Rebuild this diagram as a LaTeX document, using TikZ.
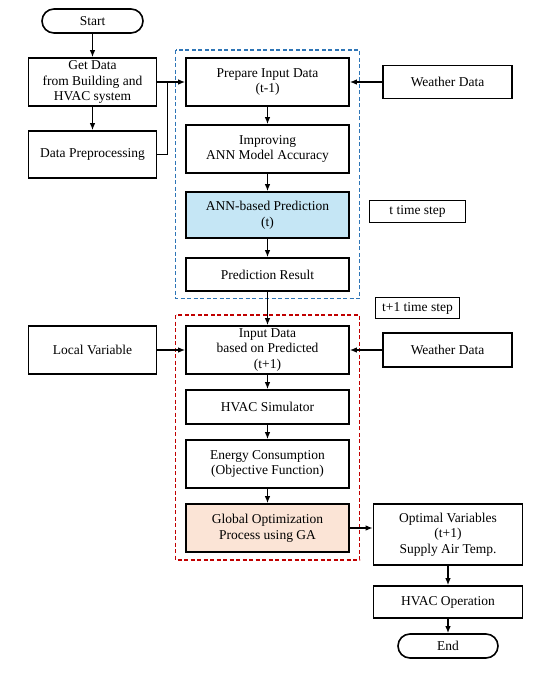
\documentclass[tikz,border=0pt]{standalone}
\usepackage{fontspec}
\setmainfont{Liberation Serif}
\usepackage{xcolor}
\usepackage{tikz}
\usetikzlibrary{positioning,calc,arrows.meta}
\definecolor{annblue}{RGB}{197,230,245}
\definecolor{gapeach}{RGB}{251,228,214}
\definecolor{zoneblue}{RGB}{46,117,182}
\definecolor{zonered}{RGB}{192,0,0}

\begin{document}
\begin{tikzpicture}[auto, node distance=19pt,
    font=\fontsize{13.5pt}{15.7pt}\selectfont,
    proc/.style={draw, line width=1.6pt, outer sep=0pt, align=center, minimum width=163pt, inner sep=1.5pt},
    side/.style={draw, line width=1.6pt, outer sep=0pt, align=center, minimum width=128pt, inner sep=1.5pt},
    term/.style={draw, line width=1.6pt, outer sep=0pt, rounded corners=12pt, minimum width=101pt, minimum height=24pt},
    tag/.style={draw, line width=1.6pt, outer sep=0pt, minimum height=22pt, inner sep=2pt},
    arr/.style={-{Latex[length=7pt,width=5.5pt]}, line width=1.3pt, shorten >=0.8pt},
    zone/.style={dash pattern=on 4pt off 2.5pt, line width=1.6pt}]
    \useasboundingbox (0,0) rectangle (540pt,-683pt);

    \node [term] (start) at (92.5pt,-21pt) {Start};
    \node [side, minimum height=48pt, below=25pt of start] (getdata) {Get Data\\from Building and\\HVAC system};
    \node [side, minimum height=47pt, below=25pt of getdata] (preproc) {Data Preprocessing};
    \node [proc, minimum height=48pt, right=29.5pt of getdata] (prep) {Prepare Input Data\\(t-1)};
    \node [side, minimum width=129pt, minimum height=33pt, right=34pt of prep] (weather1) {Weather Data};
    \node [proc, minimum height=48pt, below=of prep] (improve) {Improving\\ANN Model Accuracy};
    \node [proc, fill=annblue, minimum height=46pt, below=of improve] (ann) {ANN-based Prediction\\(t)};
    \node [proc, minimum height=33pt, below=20pt of ann] (result) {Prediction Result};
    \node [tag, minimum width=96pt, right=20.5pt of ann, yshift=3.5pt] (tstep) {t time step};
    \node [tag, minimum width=84pt, minimum height=21pt, below=75pt of tstep] (tnext) {t+1 time step};

    \node [proc, minimum height=48pt, below=35pt of result] (input) {Input Data\\based on Predicted\\(t+1)};
    \node [side, minimum height=48pt, left=29.5pt of input] (localvar) {Local Variable};
    \node [side, minimum width=129pt, minimum height=34pt, right=34pt of input] (weather2) {Weather Data};
    \node [proc, minimum height=34pt, below=16pt of input] (sim) {HVAC Simulator};
    \node [proc, minimum height=48pt, below=16pt of sim] (energy) {Energy Consumption\\(Objective Function)};
    \node [proc, fill=gapeach, minimum height=48pt, below=16pt of energy] (ga) {Global Optimization\\Process using GA};
    \node [side, minimum width=149pt, minimum height=61pt, right=24.5pt of ga.north east, anchor=north west] (optvar) {Optimal Variables\\(t+1)\\Supply Air Temp.};
    \node [side, minimum width=149pt, minimum height=32pt, below=21pt of optvar] (hvacop) {HVAC Operation};
    \node [term, minimum width=100pt, below=16pt of hvacop] (finish) {End};

    \draw [zone, zoneblue] ($(prep.north west)+(-10.5pt,8pt)$) rectangle ($(result.south east)+(10.5pt,-7.5pt)$);
    \draw [zone, zonered] ($(input.north west)+(-10.5pt,11pt)$) rectangle ($(ga.south east)+(10.5pt,-8pt)$);

    \draw [arr] (start) -- (getdata);
    \draw [arr] (getdata) -- (preproc);
    \draw [arr] (getdata) -- (prep);
    \coordinate (join) at ($(getdata.east)+(11pt,0)$);
    \draw [line width=1.3pt] (preproc.east) -| (join);
    \draw [arr] (weather1) -- (prep);
    \draw [arr] (prep) -- (improve);
    \draw [arr] (improve) -- (ann);
    \draw [arr] (ann) -- (result);
    \draw [arr] (result) -- (input);
    \draw [arr] (localvar) -- (input);
    \draw [arr] (weather2) -- (input);
    \draw [arr] (input) -- (sim);
    \draw [arr] (sim) -- (energy);
    \draw [arr] (energy) -- (ga);
    \draw [arr] (ga.east) -- (ga.east -| optvar.west);
    \draw [arr] (optvar) -- (hvacop);
    \draw [arr] (hvacop) -- (finish);
\end{tikzpicture}
\end{document}
